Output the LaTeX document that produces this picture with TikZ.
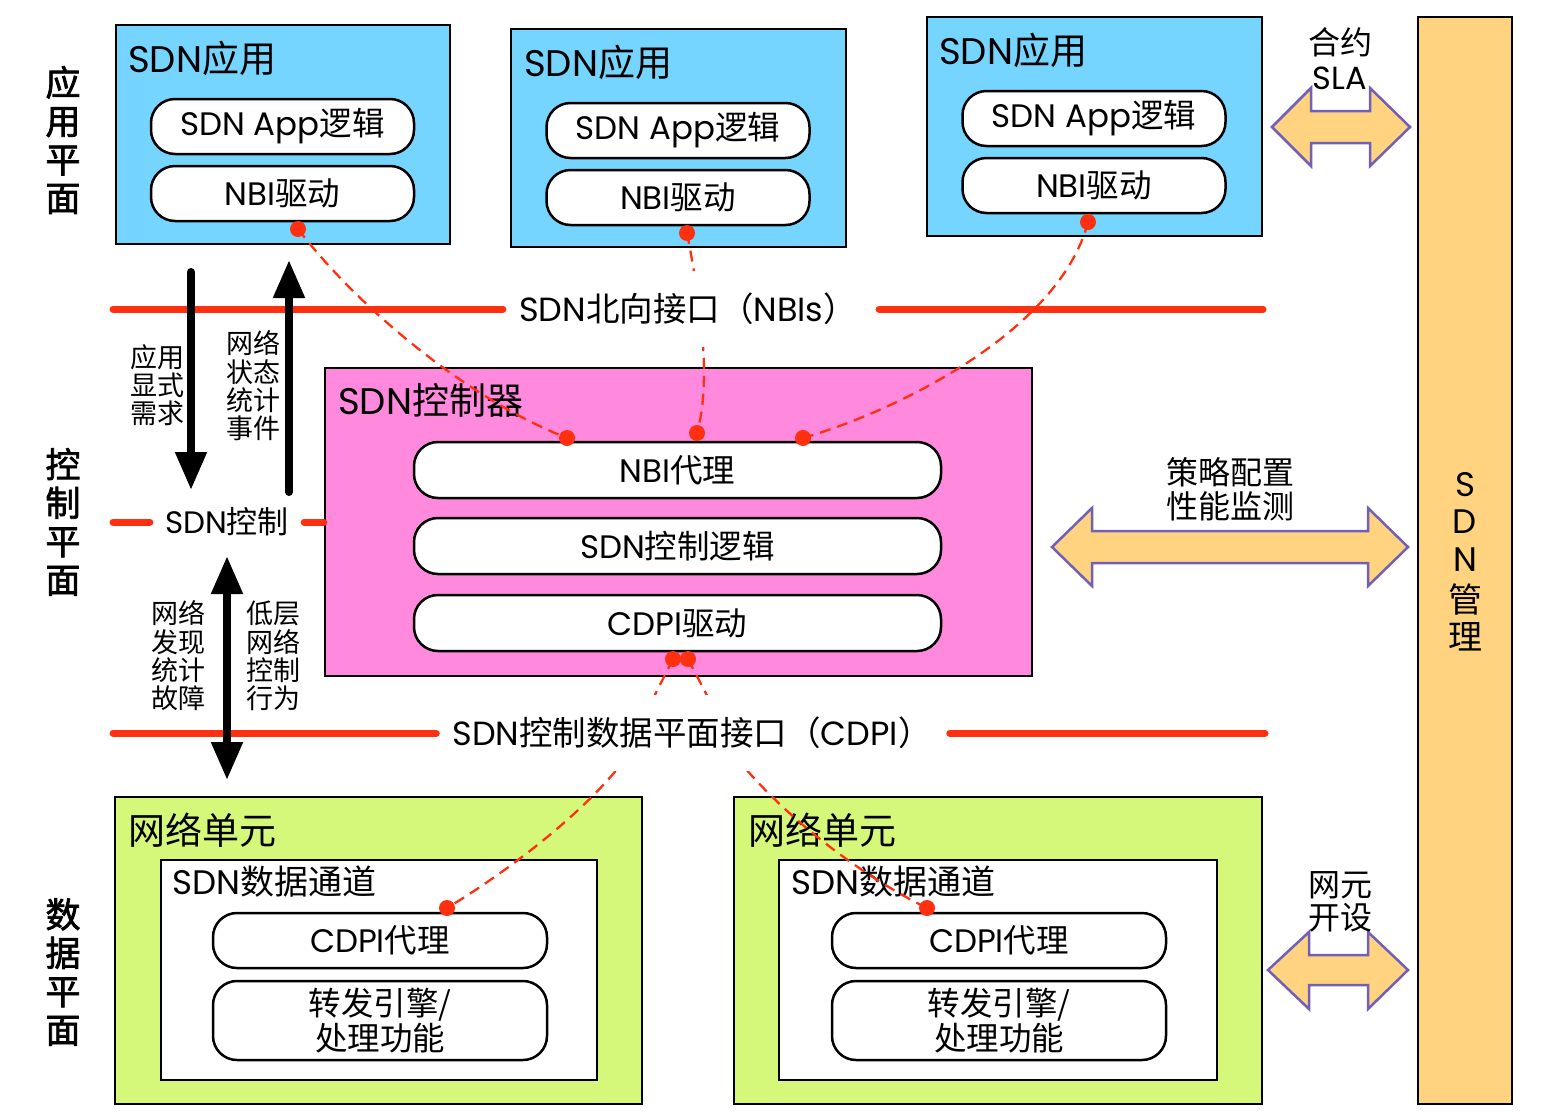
\documentclass[tikz,border=0pt]{standalone}
\usepackage{fontspec}
\setmainfont{Poppins}
\newfontfamily\cjk{Noto Sans CJK SC}
\newfontfamily\cjkb{Noto Sans CJK SC}[FakeBold=2]
\newcommand\zh[1]{{\cjk #1}}
\newcommand\sz[2]{\fontsize{#1}{#2}\selectfont}
\usetikzlibrary{arrows.meta}
\definecolor{appblue}{RGB}{117,213,255}
\definecolor{ctrlpink}{RGB}{255,137,220}
\definecolor{negreen}{RGB}{213,248,122}
\definecolor{mgorange}{RGB}{255,211,127}
\definecolor{redl}{RGB}{255,48,16}
\definecolor{arrpurple}{RGB}{112,96,184}
\begin{document}
\begin{tikzpicture}[x=1pt,y=-1pt,
  box/.style={draw=black, line width=2.5pt, inner sep=0pt},
  pill/.style={draw=black, line width=2.5pt, fill=white, rounded corners=24pt, inner sep=0pt, minimum height=55pt, minimum width=263pt, font=\sz{32.5}{34}, align=center},
  titl/.style={anchor=west, inner sep=0pt, font=\sz{37}{40}},
  subtitl/.style={anchor=west, inner sep=0pt, font=\sz{34}{38}},
  lbl/.style={inner sep=0pt, font=\sz{32}{34}},
  ifc/.style={fill=white, inner xsep=12pt, inner ysep=22pt, font=\sz{33.5}{36}},
  small/.style={inner sep=0pt, align=center, font=\cjk\sz{27}{28.3}},
  plane/.style={inner sep=0pt, align=center, font=\cjkb\sz{35}{38.5}},
  mg/.style={inner sep=0pt, font=\sz{34}{36}},
  redline/.style={draw=redl, line width=7pt, line cap=round},
  dsh/.style={draw=redl, line width=2.3pt, dash pattern=on 11pt off 7pt},
  dot/.style={fill=redl},
  blk/.style={line width=8pt, line cap=round},
  bigarr/.style={draw=arrpurple, line width=2.5pt, fill=mgorange, line join=miter}
]
\useasboundingbox (0,0) rectangle (1553,1119);

% plane labels
\node[plane] (pa) at (63,140) {应\\用\\平\\面};
\node[plane] (pc) at (63,522) {控\\制\\平\\面};
\node[plane] (pd) at (63,972) {数\\据\\平\\面};

% application boxes
\node[box, fill=appblue, minimum width=334pt, minimum height=219pt] (app1) at (283,134.5) {};
\node[box, fill=appblue, minimum width=335pt, minimum height=218pt] (app2) at (678.5,138) {};
\node[box, fill=appblue, minimum width=335pt, minimum height=219pt] (app3) at (1094.5,126.5) {};
\node[titl] (app1t) at (128,58) {SDN\zh{应用}};
\node[titl] (app2t) at (524,62) {SDN\zh{应用}};
\node[titl] (app3t) at (939,50) {SDN\zh{应用}};
\node[pill] (app1l) at (282.5,126.5) {SDN App\zh{逻辑}};
\node[pill] (app1n) at (282.5,193.5) {NBI\zh{驱动}};
\node[pill] (app2l) at (678,130.5) {SDN App\zh{逻辑}};
\node[pill] (app2n) at (678,197.5) {NBI\zh{驱动}};
\node[pill] (app3l) at (1094,118.5) {SDN App\zh{逻辑}};
\node[pill] (app3n) at (1094,185.5) {NBI\zh{驱动}};

% management
\node[box, fill=mgorange, minimum width=94pt, minimum height=1087pt] (mgmt) at (1465,560.5) {};
\node[mg] (m1) at (1465,485) {S};
\node[mg] (m2) at (1465,522) {D};
\node[mg] (m3) at (1465,560) {N};
\node[mg, font=\cjk\sz{34}{36}] (m4) at (1465,600) {管};
\node[mg, font=\cjk\sz{34}{36}] (m5) at (1465,637) {理};

% controller
\node[box, fill=ctrlpink, minimum width=707pt, minimum height=308pt] (ctrl) at (678.5,522) {};
\node[titl] (ctrlt) at (338,400) {SDN\zh{控制器}};
\node[pill, minimum width=527pt, minimum height=56pt] (nbia) at (677.5,470) {NBI\zh{代理}};
\node[pill, minimum width=527pt, minimum height=56pt] (logic) at (677.5,546) {SDN\zh{控制逻辑}};
\node[pill, minimum width=527pt, minimum height=56pt] (cdpid) at (677.5,623) {CDPI\zh{驱动}};

% network elements
\node[box, fill=negreen, minimum width=527pt, minimum height=307pt] (ne1) at (378.5,950.5) {};
\node[box, fill=negreen, minimum width=528pt, minimum height=307pt] (ne2) at (998,950.5) {};
\node[titl] (ne1t) at (128,830) {\zh{网络单元}};
\node[titl] (ne2t) at (748,830) {\zh{网络单元}};
\node[box, fill=white, minimum width=436pt, minimum height=220pt] (dp1) at (379,970) {};
\node[box, fill=white, minimum width=438pt, minimum height=220pt] (dp2) at (998,970) {};
\node[subtitl] (dp1t) at (172,882) {SDN\zh{数据通道}};
\node[subtitl] (dp2t) at (791,882) {SDN\zh{数据通道}};
\node[pill, minimum width=334pt] (ag1) at (380,940.5) {CDPI\zh{代理}};
\node[pill, minimum width=334pt, minimum height=79pt, font=\cjk\sz{32.5}{33}] (fw1) at (380,1020.5) {转发引擎/\\处理功能};
\node[pill, minimum width=334pt] (ag2) at (999,940.5) {CDPI\zh{代理}};
\node[pill, minimum width=334pt, minimum height=79pt, font=\cjk\sz{32.5}{33}] (fw2) at (999,1020.5) {转发引擎/\\处理功能};

% dot coordinates
\coordinate (d1) at (298,229);
\coordinate (d2) at (687,233);
\coordinate (d3) at (1088,222);
\coordinate (c1) at (567,438);
\coordinate (c2) at (697,433);
\coordinate (c3) at (803,438);
\coordinate (c4) at (673,659);
\coordinate (c5) at (688,659);
\coordinate (e1) at (447,908);
\coordinate (e2) at (927,908);

% dashed links
\draw[dsh] (d1) .. controls (360,310) and (470,400) .. (c1);
\draw[dsh] (d2) .. controls (700,300) and (712,380) .. (c2);
\draw[dsh] (d3) .. controls (1060,330) and (900,410) .. (c3);
\draw[dsh] (c4) -- (618,768) .. controls (580,815) and (510,870) .. (e1);
\draw[dsh] (c5) -- (745,768) .. controls (790,820) and (860,875) .. (e2);

% interface lines
\coordinate (nl) at (113,309);
\coordinate (nr) at (1263,309);
\coordinate (cl) at (113,733);
\coordinate (cr) at (1265,733);
\coordinate (sl) at (113,522);
\node[ifc] (nbi) at (688,309) {SDN\zh{北向接口（}NBIs\zh{）}};
\node[ifc] (cdpi) at (692,733) {SDN\zh{控制数据平面接口（}CDPI\zh{）}};
\draw[redline] (nl) -- ([xshift=-4pt]nbi.west);
\draw[redline] ([xshift=10pt]nbi.east) -- (nr);
\draw[redline] (cl) -- ([xshift=-4pt]cdpi.west);
\draw[redline] ([xshift=6pt]cdpi.east) -- (cr);
\node[lbl, font=\sz{31}{32}] (ctl) at (227,522) {SDN\zh{控制}};
\draw[redline] (sl) -- ([xshift=-15pt]ctl.west);
\draw[redline] ([xshift=15pt]ctl.east) -- (ctrl.west);

% dots
\foreach \p in {d1,d2,d3,c1,c2,c3,c4,c5,e1,e2} \fill[dot] (\p) circle[radius=8pt];

% black arrows
\coordinate (a1s) at (191,272); \coordinate (a1e) at (191,490);
\coordinate (a2s) at (289,492); \coordinate (a2e) at (289,260);
\coordinate (a3s) at (227,556); \coordinate (a3e) at (227,780);
\draw[blk, -{Triangle[length=38pt,width=30pt]}] (a1s) -- (a1e);
\draw[blk, -{Triangle[length=38pt,width=30pt]}] (a2s) -- (a2e);
\draw[blk, {Triangle[length=38pt,width=30pt]}-{Triangle[length=38pt,width=30pt]}] (a3s) -- (a3e);
\node[small] (t1) at (157,385) {应用\\显式\\需求};
\node[small] (t2) at (253,386) {网络\\状态\\统计\\事件};
\node[small] (t3) at (178,656) {网络\\发现\\统计\\故障};
\node[small] (t4) at (273,656) {低层\\网络\\控制\\行为};

% big double arrows
\draw[bigarr] (1272,127) -- (1311,88) -- (1311,111) -- (1370,111) -- (1370,88) -- (1410,127) -- (1370,166) -- (1370,143) -- (1311,143) -- (1311,166) -- cycle;
\draw[bigarr] (1052,547) -- (1092,508) -- (1092,531) -- (1368,531) -- (1368,508) -- (1408,547) -- (1368,586) -- (1368,563) -- (1092,563) -- (1092,586) -- cycle;
\draw[bigarr] (1268,970) -- (1309,932) -- (1309,955) -- (1368,955) -- (1368,932) -- (1408,970) -- (1368,1009) -- (1368,985) -- (1309,985) -- (1309,1009) -- cycle;
\node[inner sep=0pt, align=center, font=\sz{32}{35}] (slat) at (1340,59) {\zh{合约}\\SLA};
\node[inner sep=0pt, align=center, font=\cjk\sz{32}{34}] (polt) at (1230,489) {策略配置\\性能监测};
\node[inner sep=0pt, align=center, font=\cjk\sz{32}{33}] (net) at (1340,902) {网元\\开设};
\end{tikzpicture}
\end{document}
